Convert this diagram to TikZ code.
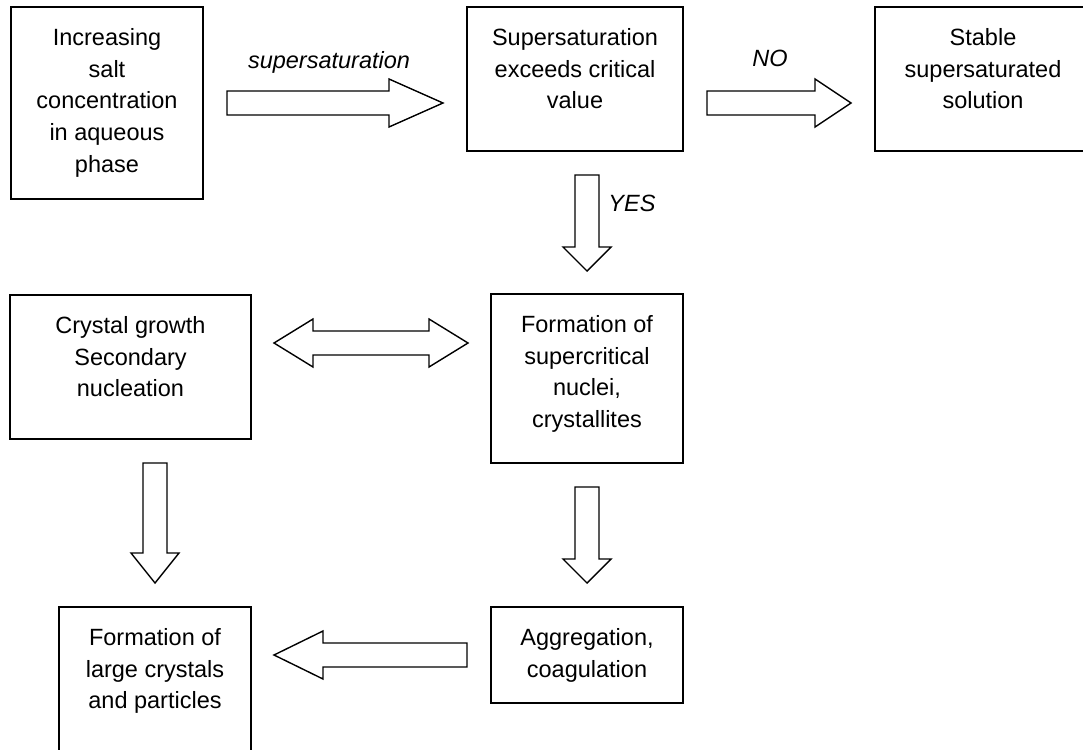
\documentclass[tikz,border=0pt]{standalone}
\usepackage{fontspec}
\setmainfont{Liberation Sans}
\usetikzlibrary{calc}

% text of a box: width, height, lines (top aligned)
\newcommand{\boxtext}[3]{\parbox[c][#2][t]{#1}{\centering\rule{0pt}{38.5pt}#3}}

% hollow block arrow: tail, tip, head length
\newcommand{\blockarrow}[3]{%
  \path ($(#2)!#3!(#1)$) coordinate (hb);
  \draw[fatarrow] ($(#1)!12pt!90:(#2)$) -- ($(hb)!12pt!90:(#2)$) -- ($(hb)!24pt!90:(#2)$)
    -- (#2) -- ($(hb)!24pt!-90:(#2)$) -- ($(hb)!12pt!-90:(#2)$) -- ($(#1)!12pt!-90:(#2)$) -- cycle;
}
% hollow double block arrow: end, end, head length
\newcommand{\dblblockarrow}[3]{%
  \path ($(#1)!#3!(#2)$) coordinate (ha) ($(#2)!#3!(#1)$) coordinate (hb);
  \draw[fatarrow] (#1) -- ($(ha)!24pt!90:(#2)$) -- ($(ha)!12pt!90:(#2)$) -- ($(hb)!12pt!-90:(#1)$)
    -- ($(hb)!24pt!-90:(#1)$) -- (#2) -- ($(hb)!24pt!90:(#1)$) -- ($(hb)!12pt!90:(#1)$)
    -- ($(ha)!12pt!-90:(#2)$) -- ($(ha)!24pt!-90:(#2)$) -- cycle;
}

\tikzset{
  box/.style={draw, line width=1.8pt, inner sep=0pt, outer sep=0pt, anchor=north west},
  fatarrow/.style={draw, line width=1.4pt, fill=white},
  lbl/.style={font=\fontsize{23.5pt}{31.7pt}\selectfont\itshape, inner sep=0pt}
}

\begin{document}
\begin{tikzpicture}[x=1pt, y=-1pt, font=\fontsize{23.5pt}{31.7pt}\selectfont]
\fill[white] (0,0) rectangle (1083,749);
\useasboundingbox (0,0) rectangle (1083,749);

% boxes
\node[box] (incr) at (11,7) {\boxtext{192pt}{192pt}{Increasing\\salt\\concentration\\in aqueous\\phase}};
\node[box] (super) at (467,7) {\boxtext{216pt}{144pt}{Supersaturation\\exceeds critical\\value}};
\node[box] (stable) at (875,7) {\boxtext{216pt}{144pt}{Stable\\supersaturated\\solution}};
\node[box] (growth) at (10,295) {\boxtext{241pt}{144pt}{Crystal growth\\Secondary\\nucleation}};
\node[box] (nuclei) at (491,294) {\boxtext{192pt}{169pt}{Formation of\\supercritical\\nuclei,\\crystallites}};
\node[box] (aggr) at (491,607) {\boxtext{192pt}{96pt}{Aggregation,\\coagulation}};
\node[box] (large) at (59,607) {\boxtext{192pt}{180pt}{Formation of\\large crystals\\and particles}};

% arrow ends
\coordinate (supTail) at ($(incr.east)+(24,0)$);
\coordinate (supTip) at ($(super.west |- incr.east)+(-24,0)$);
\coordinate (noTail) at ($(super.east |- incr.east)+(24,0)$);
\coordinate (noTip) at ($(stable.west |- incr.east)+(-24,0)$);
\coordinate (yesTail) at ($(nuclei.north |- super.south)+(0,24)$);
\coordinate (yesTip) at ($(nuclei.north)+(0,-23)$);
\coordinate (dblL) at ($(growth.north east)+(23,48)$);
\coordinate (dblR) at ($(nuclei.west |- dblL)+(-23,0)$);
\coordinate (growTail) at ($(growth.south -| large.north)+(0,24)$);
\coordinate (growTip) at ($(large.north)+(0,-24)$);
\coordinate (nucTail) at ($(nuclei.south)+(0,24)$);
\coordinate (nucTip) at ($(aggr.north)+(0,-24)$);
\coordinate (aggTail) at ($(aggr.west)+(-24,0)$);
\coordinate (aggTip) at ($(large.east |- aggr.west)+(23,0)$);

% arrows
\blockarrow{supTail}{supTip}{54pt}
\blockarrow{noTail}{noTip}{36pt}
\blockarrow{yesTail}{yesTip}{24pt}
\dblblockarrow{dblL}{dblR}{39pt}
\blockarrow{growTail}{growTip}{30pt}
\blockarrow{nucTail}{nucTip}{24pt}
\blockarrow{aggTail}{aggTip}{49pt}

% labels
\node[lbl] (lblSup) at (329,62) {supersaturation};
\node[lbl] (lblNo) at (770,58) {NO};
\node[lbl] (lblYes) at (632,203) {YES};
\end{tikzpicture}
\end{document}
